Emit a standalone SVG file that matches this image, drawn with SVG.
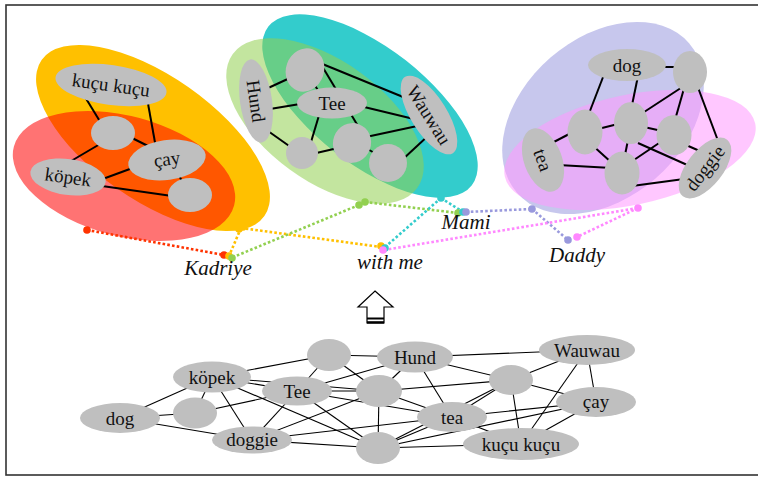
<svg xmlns="http://www.w3.org/2000/svg" width="758" height="477" viewBox="0 0 758 477">
  <style>
    .n { fill: #bfbfbf; }
    .t { font-family: "Liberation Serif", "Times New Roman", serif; font-size: 19px; fill: #111; text-anchor: middle; dominant-baseline: central; }
    .lbl { font-family: "Liberation Serif", "Times New Roman", serif; font-size: 21px; font-style: italic; fill: #111; text-anchor: middle; }
    .e { stroke: #000; stroke-width: 2; fill: none; }
    .eb { stroke: #000; stroke-width: 1.1; fill: none; }
    .d { fill: none; stroke-width: 2.6; stroke-dasharray: 2.6 2.2; }
  </style>

  <!-- frame -->
  <rect x="6" y="5" width="760" height="470" fill="#fff" stroke="#333" stroke-width="1.6"/>

  <!-- cluster regions -->
  <g id="regions">
    <ellipse cx="153" cy="138" rx="136" ry="62" transform="rotate(35 153 138)" fill="#ffc000"/>
    <ellipse cx="124" cy="176" rx="114" ry="60" transform="rotate(15 124 176)" fill="#ff0000" fill-opacity="0.55"/>
    <ellipse cx="370" cy="106" rx="129" ry="58" transform="rotate(38 370 106)" fill="#33cccc"/>
    <ellipse cx="325" cy="121" rx="114" ry="60" transform="rotate(36 325 121)" fill="#92d050" fill-opacity="0.55"/>
    <ellipse cx="603" cy="118" rx="114" ry="80" transform="rotate(-41 603 118)" fill="#c7c7ed"/>
    <ellipse cx="630" cy="150" rx="128" ry="55" transform="rotate(-12 630 150)" fill="#ff99ff" fill-opacity="0.55"/>
  </g>

  <g id="connectors">
    <!-- word links -->
    <g id="word-links">
      <line class="d" stroke="#ff3300" x1="87" y1="230" x2="224" y2="255"/>
      <line class="d" stroke="#ffc000" x1="241" y1="228" x2="229" y2="256"/>
      <line class="d" stroke="#ffc000" x1="241" y1="228" x2="381" y2="247"/>
      <line class="d" stroke="#92d050" x1="359" y1="205" x2="231" y2="258"/>
      <line class="d" stroke="#92d050" x1="365" y1="202" x2="458" y2="213"/>
      <line class="d" stroke="#33cccc" x1="441" y1="198" x2="384" y2="248"/>
      <line class="d" stroke="#33cccc" x1="441" y1="198" x2="463" y2="212"/>
      <line class="d" stroke="#9999dd" x1="466" y1="212" x2="532" y2="209"/>
      <line class="d" stroke="#9999dd" x1="532" y1="209" x2="568" y2="240"/>
      <line class="d" stroke="#ff88ff" x1="384" y1="250" x2="638" y2="208"/>
      <line class="d" stroke="#ff88ff" x1="638" y1="208" x2="577" y2="237"/>
      <circle cx="87" cy="230" r="3.8" fill="#ff3300"/>
      <circle cx="239" cy="229" r="3.8" fill="#ffc000"/>
      <circle cx="243" cy="227" r="3.8" fill="#ffc000"/>
      <circle cx="224" cy="255" r="3.8" fill="#ff3300"/>
      <circle cx="229" cy="256" r="3.8" fill="#ffc000"/>
      <circle cx="232" cy="258" r="3.8" fill="#92d050"/>
      <circle cx="359" cy="205" r="3.8" fill="#92d050"/>
      <circle cx="365" cy="202" r="3.8" fill="#92d050"/>
      <circle cx="441" cy="198" r="3.8" fill="#33cccc"/>
      <circle cx="381" cy="246" r="3.8" fill="#ffc000"/>
      <circle cx="385" cy="248" r="3.8" fill="#33cccc"/>
      <circle cx="383" cy="250" r="3.8" fill="#ff88ff"/>
      <circle cx="458" cy="213" r="3.8" fill="#92d050"/>
      <circle cx="463" cy="212" r="3.8" fill="#33cccc"/>
      <circle cx="466" cy="212" r="3.8" fill="#9999dd"/>
      <circle cx="532" cy="209" r="3.8" fill="#9999dd"/>
      <circle cx="638" cy="208" r="3.8" fill="#ff88ff"/>
      <circle cx="568" cy="240" r="3.8" fill="#9999dd"/>
      <circle cx="577" cy="237" r="3.8" fill="#ff88ff"/>
    </g>

    <!-- left cluster edges -->
    <g id="edges-left">
      <line class="e" x1="82" y1="92" x2="104" y2="128"/>
      <line class="e" x1="147" y1="98" x2="156" y2="148"/>
      <line class="e" x1="128" y1="136" x2="152" y2="148"/>
      <line class="e" x1="100" y1="144" x2="66" y2="164"/>
      <line class="e" x1="100" y1="180" x2="138" y2="166"/>
      <line class="e" x1="102" y1="186" x2="172" y2="196"/>
      <line class="e" x1="175" y1="169" x2="185" y2="186"/>
    </g>

    <!-- middle cluster edges -->
    <g id="edges-middle">
      <line class="e" x1="266" y1="89" x2="292" y2="77"/>
      <line class="e" x1="270" y1="109" x2="300" y2="104"/>
      <line class="e" x1="268" y1="131" x2="292" y2="148"/>
      <line class="e" x1="311" y1="79" x2="319" y2="92"/>
      <line class="e" x1="320" y1="63" x2="408" y2="99"/>
      <line class="e" x1="322" y1="66" x2="358" y2="126"/>
      <line class="e" x1="360" y1="106" x2="418" y2="120"/>
      <line class="e" x1="320" y1="112" x2="311" y2="142"/>
      <line class="e" x1="312" y1="154" x2="338" y2="148"/>
      <line class="e" x1="366" y1="137" x2="422" y2="125"/>
      <line class="e" x1="362" y1="146" x2="380" y2="156"/>
      <line class="e" x1="402" y1="160" x2="430" y2="134"/>
    </g>

    <!-- right cluster edges -->
    <g id="edges-right">
      <line class="e" x1="662" y1="67" x2="678" y2="67"/>
      <line class="e" x1="605" y1="72" x2="588" y2="116"/>
      <line class="e" x1="638" y1="76" x2="631" y2="110"/>
      <line class="e" x1="690" y1="82" x2="638" y2="116"/>
      <line class="e" x1="685" y1="85" x2="675" y2="120"/>
      <line class="e" x1="697" y1="85" x2="720" y2="146"/>
      <line class="e" x1="548" y1="145" x2="575" y2="131"/>
      <line class="e" x1="558" y1="165" x2="612" y2="168"/>
      <line class="e" x1="598" y1="129" x2="618" y2="124"/>
      <line class="e" x1="591" y1="144" x2="612" y2="163"/>
      <line class="e" x1="644" y1="127" x2="662" y2="131"/>
      <line class="e" x1="628" y1="140" x2="624" y2="160"/>
      <line class="e" x1="638" y1="143" x2="694" y2="168"/>
      <line class="e" x1="665" y1="139" x2="628" y2="164"/>
      <line class="e" x1="686" y1="145" x2="702" y2="152"/>
      <line class="e" x1="632" y1="186" x2="684" y2="179"/>
    </g>

    <!-- lower graph edges -->
    <g id="edges-lower">
      <line class="eb" x1="120" y1="418" x2="212" y2="377"/>
      <line class="eb" x1="120" y1="418" x2="195" y2="413"/>
      <line class="eb" x1="120" y1="418" x2="252" y2="440"/>
      <line class="eb" x1="212" y1="377" x2="329" y2="355"/>
      <line class="eb" x1="212" y1="377" x2="297" y2="391"/>
      <line class="eb" x1="212" y1="377" x2="195" y2="413"/>
      <line class="eb" x1="212" y1="377" x2="252" y2="440"/>
      <line class="eb" x1="212" y1="377" x2="378" y2="448"/>
      <line class="eb" x1="212" y1="377" x2="379" y2="391"/>
      <line class="eb" x1="195" y1="413" x2="297" y2="391"/>
      <line class="eb" x1="297" y1="391" x2="252" y2="440"/>
      <line class="eb" x1="297" y1="391" x2="329" y2="355"/>
      <line class="eb" x1="297" y1="391" x2="415" y2="357"/>
      <line class="eb" x1="297" y1="391" x2="379" y2="391"/>
      <line class="eb" x1="297" y1="391" x2="452" y2="417"/>
      <line class="eb" x1="297" y1="391" x2="378" y2="448"/>
      <line class="eb" x1="252" y1="440" x2="379" y2="391"/>
      <line class="eb" x1="252" y1="440" x2="452" y2="417"/>
      <line class="eb" x1="252" y1="440" x2="378" y2="448"/>
      <line class="eb" x1="329" y1="355" x2="415" y2="357"/>
      <line class="eb" x1="329" y1="355" x2="379" y2="391"/>
      <line class="eb" x1="379" y1="391" x2="415" y2="357"/>
      <line class="eb" x1="379" y1="391" x2="378" y2="448"/>
      <line class="eb" x1="379" y1="391" x2="452" y2="417"/>
      <line class="eb" x1="379" y1="391" x2="511" y2="380"/>
      <line class="eb" x1="415" y1="357" x2="587" y2="350"/>
      <line class="eb" x1="415" y1="357" x2="511" y2="380"/>
      <line class="eb" x1="415" y1="357" x2="452" y2="417"/>
      <line class="eb" x1="378" y1="448" x2="452" y2="417"/>
      <line class="eb" x1="378" y1="448" x2="596" y2="402"/>
      <line class="eb" x1="378" y1="448" x2="521" y2="444"/>
      <line class="eb" x1="378" y1="448" x2="511" y2="380"/>
      <line class="eb" x1="452" y1="417" x2="511" y2="380"/>
      <line class="eb" x1="452" y1="417" x2="596" y2="402"/>
      <line class="eb" x1="452" y1="417" x2="521" y2="444"/>
      <line class="eb" x1="511" y1="380" x2="587" y2="350"/>
      <line class="eb" x1="511" y1="380" x2="596" y2="402"/>
      <line class="eb" x1="511" y1="380" x2="521" y2="444"/>
      <line class="eb" x1="587" y1="350" x2="596" y2="402"/>
      <line class="eb" x1="587" y1="350" x2="521" y2="444"/>
      <line class="eb" x1="596" y1="402" x2="521" y2="444"/>
    </g>
  </g>

  <!-- left cluster nodes -->
  <g id="left-kucu"><ellipse class="n" cx="111" cy="85" rx="56" ry="20" transform="rotate(8 111 85)"/><text class="t" x="111" y="85" transform="rotate(8 111 85)">kuçu kuçu</text></g>
  <g id="left-e1"><ellipse class="n" cx="113" cy="133" rx="22" ry="17"/></g>
  <g id="left-cay"><ellipse class="n" cx="167" cy="160" rx="39" ry="20" transform="rotate(-8 167 160)"/><text class="t" x="167" y="159" transform="rotate(-8 167 160)">çay</text></g>
  <g id="left-kopek"><ellipse class="n" cx="68" cy="177" rx="38" ry="18" transform="rotate(8 68 177)"/><text class="t" x="68" y="177" transform="rotate(8 68 177)">köpek</text></g>
  <g id="left-e2"><ellipse class="n" cx="190" cy="195" rx="22" ry="17"/></g>

  <!-- middle cluster nodes -->
  <g id="mid-hund"><ellipse class="n" cx="256" cy="101" rx="42" ry="16" transform="rotate(82 256 101)"/><text class="t" x="256" y="101" transform="rotate(82 256 101)">Hund</text></g>
  <g id="mid-e1"><ellipse class="n" cx="305" cy="70" rx="19" ry="22" transform="rotate(20 305 70)"/></g>
  <g id="mid-tee"><ellipse class="n" cx="332" cy="103" rx="35" ry="15.5"/><text class="t" x="332" y="103">Tee</text></g>
  <g id="mid-e2"><ellipse class="n" cx="302" cy="153" rx="16" ry="16"/></g>
  <g id="mid-e3"><ellipse class="n" cx="352" cy="143" rx="19" ry="20" transform="rotate(20 352 143)"/></g>
  <g id="mid-e4"><ellipse class="n" cx="388" cy="163" rx="19" ry="19"/></g>
  <g id="mid-wauwau"><ellipse class="n" cx="429" cy="115" rx="45" ry="18" transform="rotate(58 429 115)"/><text class="t" x="429" y="115" transform="rotate(58 429 115)">Wauwau</text></g>

  <!-- right cluster nodes -->
  <g id="right-dog"><ellipse class="n" cx="627" cy="65" rx="39" ry="16"/><text class="t" x="627" y="65">dog</text></g>
  <g id="right-e1"><ellipse class="n" cx="690" cy="72" rx="17" ry="21"/></g>
  <g id="right-e2"><ellipse class="n" cx="585" cy="132" rx="17.5" ry="22.5"/></g>
  <g id="right-e3"><ellipse class="n" cx="631" cy="123" rx="17" ry="21"/></g>
  <g id="right-e4"><ellipse class="n" cx="674" cy="135" rx="17.5" ry="20"/></g>
  <g id="right-e5"><ellipse class="n" cx="622" cy="173" rx="17.5" ry="21.5"/></g>
  <g id="right-tea"><ellipse class="n" cx="543" cy="160" rx="33" ry="19" transform="rotate(70 543 160)"/><text class="t" x="543" y="160" transform="rotate(70 543 160)">tea</text></g>
  <g id="right-doggie"><ellipse class="n" cx="705" cy="168" rx="36" ry="18" transform="rotate(-52 705 168)"/><text class="t" x="705" y="168" transform="rotate(-52 705 168)">doggie</text></g>

  <!-- word labels -->
  <g id="label-kadriye"><text class="lbl" x="218" y="275">Kadriye</text></g>
  <g id="label-withme"><text class="lbl" x="390" y="269">with me</text></g>
  <g id="label-mami"><text class="lbl" x="466" y="229">Mami</text></g>
  <g id="label-daddy"><text class="lbl" x="577" y="262">Daddy</text></g>

  <!-- hollow arrow -->
  <g id="arrow">
    <polygon points="375,291 393,307 384,307 384,323 367,323 367,307 358,307" fill="#fff" stroke="#000" stroke-width="1.2" stroke-linejoin="miter"/>
    <rect x="367" y="317.5" width="17" height="2" fill="#000"/>
    <rect x="367" y="321.2" width="17" height="2.4" fill="#000"/>
  </g>

  <!-- lower graph nodes -->
  <g id="low-dog"><ellipse class="n" cx="120" cy="418" rx="40" ry="15"/><text class="t" x="120" y="418">dog</text></g>
  <g id="low-kopek"><ellipse class="n" cx="212" cy="377" rx="39" ry="15.5"/><text class="t" x="212" y="377">köpek</text></g>
  <g id="low-e1"><ellipse class="n" cx="195" cy="413" rx="22" ry="15.5"/></g>
  <g id="low-tee"><ellipse class="n" cx="297" cy="391" rx="35" ry="14.5"/><text class="t" x="297" y="391">Tee</text></g>
  <g id="low-doggie"><ellipse class="n" cx="252" cy="440" rx="40" ry="13.5"/><text class="t" x="252" y="439">doggie</text></g>
  <g id="low-e2"><ellipse class="n" cx="329" cy="355" rx="22" ry="16"/></g>
  <g id="low-e3"><ellipse class="n" cx="379" cy="391" rx="23" ry="16"/></g>
  <g id="low-e4"><ellipse class="n" cx="378" cy="448" rx="22" ry="16"/></g>
  <g id="low-hund"><ellipse class="n" cx="415" cy="357" rx="38" ry="15.5"/><text class="t" x="415" y="357">Hund</text></g>
  <g id="low-tea"><ellipse class="n" cx="452" cy="417" rx="35" ry="15"/><text class="t" x="452" y="417">tea</text></g>
  <g id="low-e5"><ellipse class="n" cx="511" cy="380" rx="22" ry="15"/></g>
  <g id="low-wauwau"><ellipse class="n" cx="587" cy="350" rx="48" ry="15"/><text class="t" x="587" y="350">Wauwau</text></g>
  <g id="low-cay"><ellipse class="n" cx="596" cy="402" rx="40" ry="15"/><text class="t" x="596" y="401">çay</text></g>
  <g id="low-kucu"><ellipse class="n" cx="521" cy="444" rx="58" ry="16"/><text class="t" x="521" y="444">kuçu kuçu</text></g>
</svg>
